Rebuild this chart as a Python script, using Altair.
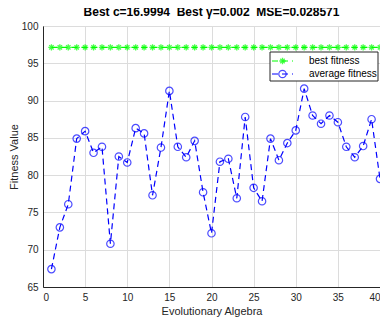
import altair as alt
import pandas as pd

generation = list(range(1, 41))
best_fitness = [97.1429] * 40
avg_fitness = [67.4, 73.0, 76.1, 84.9, 85.9, 83.0, 83.8, 70.8, 82.5, 81.7,
               86.3, 85.6, 77.3, 83.7, 91.3, 83.8, 82.4, 84.6, 77.7, 72.2,
               81.8, 82.2, 76.9, 87.8, 78.3, 76.5, 84.9, 82.0, 84.3, 86.0,
               91.6, 88.0, 86.9, 88.0, 87.1, 83.8, 82.4, 83.9, 87.5, 79.5]
x_ticks = [0, 5, 10, 15, 20, 25, 30, 35, 40]
y_ticks = [65, 70, 75, 80, 85, 90, 95, 100]

df = pd.DataFrame({"gen": generation, "best": best_fitness, "avg": avg_fitness})

FONT = "Liberation Sans"
GREEN = "#00ff00"
BLUE = "#0000ff"
ASTERISK = "M-1,0L1,0M0,-1L0,1M-0.7,-0.7L0.7,0.7M-0.7,0.7L0.7,-0.7"
NB = "\u00a0"

x_scale = alt.Scale(domain=[0, 40], nice=False)
y_scale = alt.Scale(domain=[65, 100], nice=False)
x_axis = alt.Axis(values=x_ticks, title="Evolutionary Algebra", grid=True, labelOverlap=False,
                  labelPadding=5, titlePadding=3)
y_axis = alt.Axis(values=y_ticks, title="Fitness Value", grid=True, labelOverlap=False,
                  labelPadding=5, titlePadding=2)

X = alt.X("gen:Q", scale=x_scale, axis=x_axis)
YB = alt.Y("best:Q", scale=y_scale, axis=y_axis)
YA = alt.Y("avg:Q", scale=y_scale, axis=y_axis)

base = alt.Chart(df)

best_line = base.mark_line(color=GREEN, strokeDash=[6, 4], strokeWidth=1.2).encode(x=X, y=YB)
best_pts = base.mark_point(shape=ASTERISK, size=40, filled=False, color=GREEN, strokeWidth=1.3).encode(x=X, y=YB)
avg_line = base.mark_line(color=BLUE, strokeDash=[6, 4], strokeWidth=1.2).encode(x=X, y=YA)
avg_pts = base.mark_point(shape="circle", size=55, filled=False, color=BLUE, strokeWidth=1.2).encode(x=X, y=YA)

one = alt.Data(values=[{}])
leg_box = alt.Chart(one).mark_rect(fill="white", stroke="#262626", strokeWidth=1).encode(
    x=alt.value(227), x2=alt.value(335), y=alt.value(26), y2=alt.value(55))
leg_l1 = alt.Chart(one).mark_rule(color=GREEN, strokeDash=[6, 4], strokeWidth=1.2).encode(
    x=alt.value(229), x2=alt.value(250), y=alt.value(35))
leg_p1 = alt.Chart(one).mark_point(shape=ASTERISK, size=40, filled=False, color=GREEN, strokeWidth=1.3).encode(
    x=alt.value(239.5), y=alt.value(35))
leg_l2 = alt.Chart(one).mark_rule(color=BLUE, strokeDash=[6, 4], strokeWidth=1.2).encode(
    x=alt.value(229), x2=alt.value(250), y=alt.value(48))
leg_p2 = alt.Chart(one).mark_point(shape="circle", size=55, filled=False, color=BLUE, strokeWidth=1.2).encode(
    x=alt.value(239.5), y=alt.value(48))
leg_t1 = alt.Chart(one).mark_text(align="left", baseline="middle", font=FONT, fontSize=10, color="black").encode(
    x=alt.value(266), y=alt.value(35), text=alt.value("best fitness"))
leg_t2 = alt.Chart(one).mark_text(align="left", baseline="middle", font=FONT, fontSize=10, color="black").encode(
    x=alt.value(266), y=alt.value(48), text=alt.value("average fitness"))

title_text = f"Best c=16.9994{NB}{NB}Best γ=0.002{NB}{NB}MSE=0.028571"

chart = alt.layer(best_line, best_pts, avg_line, avg_pts,
                  leg_box, leg_l1, leg_p1, leg_l2, leg_p2, leg_t1, leg_t2).properties(
    width=337, height=261,
    title=alt.TitleParams(title_text, frame="group",
                          font=FONT, fontSize=12, fontWeight="bold", color="black", offset=2),
    autosize="none",
    padding={"left": 35, "top": 18, "right": 0, "bottom": 33},
).configure_view(stroke="#262626", strokeWidth=1).configure_axis(
    labelFont=FONT, labelFontSize=10, labelColor="#262626",
    titleFont=FONT, titleFontSize=11, titleFontWeight="normal", titleColor="#262626",
    domainColor="#262626", ticks=False,
    gridColor="#dcdcdc", gridWidth=1,
)

chart.save("out.html", embed_options={"renderer": "svg", "actions": False})
